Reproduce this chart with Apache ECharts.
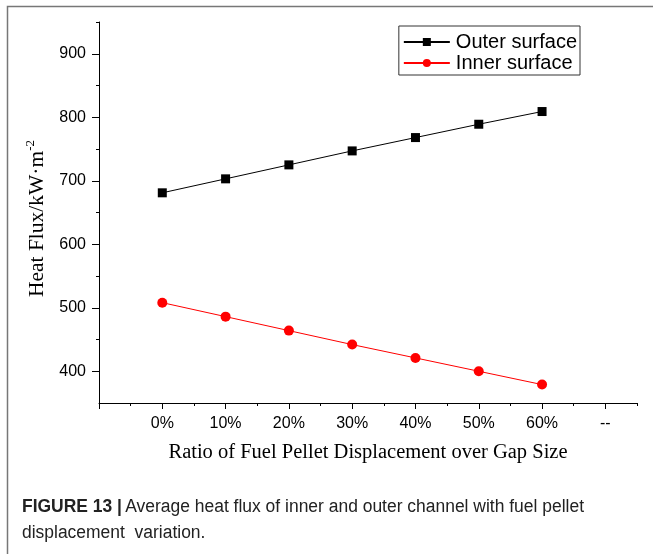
<!DOCTYPE html>
<html>
<head>
<meta charset="utf-8">
<script src="https://cdn.jsdelivr.net/npm/echarts@6/dist/echarts.min.js"></script>
<style>
  html, body { margin: 0; padding: 0; background: #fff; }
  #chart { width: 653px; height: 554px; }
</style>
</head>
<body>
<div id="chart"></div>
<script>
// Displacement ratio positions (tick index) and their labels
const ratioPositions = [0, 1, 2, 3, 4, 5, 6];
const ratioLabels = ['0%', '10%', '20%', '30%', '40%', '50%', '60%', '--'];

// Average heat flux, kW·m^-2
const outerSurface = [681, 703, 725, 747, 768, 789, 809];
const innerSurface = [508, 486, 464, 442, 421, 400, 379];

// Axis tick values
const yMajorTicks = [400, 500, 600, 700, 800, 900];
const yMinorTicks = [450, 550, 650, 750, 850, 950];
const xMajorTicks = [-1, 0, 1, 2, 3, 4, 5, 6, 7];
const xMinorTicks = [-0.5, 0.5, 1.5, 2.5, 3.5, 4.5, 5.5, 6.5, 7.5];

const pairs = (vals) => ratioPositions.map((x, i) => [x, vals[i]]);

const chart = echarts.init(document.getElementById('chart'), null, { renderer: 'canvas' });

const blackLine = { color: '#000', width: 1 };
const sansFont = 'Liberation Sans, Arial, sans-serif';
const serifFont = 'Liberation Serif, Times New Roman, serif';

chart.setOption({
  backgroundColor: '#fff',
  animation: false,
  grid: { left: 99, right: 16, top: 22, bottom: 151 },
  legend: {
    show: true,
    right: 73,
    top: 26,
    orient: 'vertical',
    itemGap: 1,
    itemWidth: 46,
    itemHeight: 10,
    padding: [6, 3, 2, 4],
    borderColor: '#333',
    borderWidth: 1,
    textStyle: { fontFamily: sansFont, fontSize: 20, color: '#000', padding: [0, 0, 0, 1] },
    data: ['Outer surface', 'Inner surface']
  },
  xAxis: [
    {
      type: 'value',
      min: -1,
      max: 7.5,
      axisLine: { show: true, onZero: false, lineStyle: blackLine },
      axisTick: { show: true, length: 6, customValues: xMajorTicks, lineStyle: blackLine },
      axisLabel: {
        customValues: [0, 1, 2, 3, 4, 5, 6, 7],
        formatter: (v) => ratioLabels[Math.round(v)] || '',
        margin: 13,
        fontFamily: sansFont,
        fontSize: 16,
        color: '#000'
      },
      splitLine: { show: false },
      name: 'Ratio of Fuel Pellet Displacement over Gap Size',
      nameLocation: 'middle',
      nameGap: 39,
      nameTextStyle: { fontFamily: serifFont, fontSize: 20.5, color: '#000' }
    },
    {
      type: 'value',
      min: -1,
      max: 7.5,
      position: 'bottom',
      axisLine: { show: false, onZero: false },
      axisTick: { show: true, length: 3, customValues: xMinorTicks, lineStyle: blackLine },
      axisLabel: { show: false },
      splitLine: { show: false }
    }
  ],
  yAxis: [
    {
      type: 'value',
      min: 350,
      max: 950,
      axisLine: { show: true, onZero: false, lineStyle: blackLine },
      axisTick: { show: true, length: 7, customValues: yMajorTicks, lineStyle: blackLine },
      axisLabel: {
        customValues: yMajorTicks,
        margin: 13,
        fontFamily: sansFont,
        fontSize: 16,
        color: '#000'
      },
      splitLine: { show: false },
      name: '{t|Heat Flux/kW·m}{s|-2}',
      nameLocation: 'middle',
      nameGap: 47,
      nameTextStyle: {
        padding: [0, 12, 0, 0],
        rich: {
          t: { fontFamily: serifFont, fontSize: 21.5, color: '#000' },
          s: { fontFamily: serifFont, fontSize: 13, color: '#000', verticalAlign: 'top', padding: [0, 0, 13, 0] }
        }
      }
    },
    {
      type: 'value',
      min: 350,
      max: 950,
      position: 'left',
      axisLine: { show: false, onZero: false },
      axisTick: { show: true, length: 3, customValues: yMinorTicks, lineStyle: blackLine },
      axisLabel: { show: false },
      splitLine: { show: false }
    }
  ],
  series: [
    {
      name: 'Outer surface',
      type: 'line',
      data: pairs(outerSurface),
      symbol: 'rect',
      symbolSize: 9,
      itemStyle: { color: '#000' },
      lineStyle: { color: '#000', width: 1 }
    },
    {
      name: 'Inner surface',
      type: 'line',
      data: pairs(innerSurface),
      symbol: 'circle',
      symbolSize: 10,
      itemStyle: { color: '#ff0000' },
      lineStyle: { color: '#ff0000', width: 1 }
    }
  ],
  graphic: [
    {
      type: 'polyline',
      shape: { points: [[7.5, 554], [7.5, 6.5], [653, 6.5]] },
      style: { stroke: '#777', lineWidth: 1.5, fill: null },
      silent: true
    },
    {
      type: 'text',
      x: 22,
      y: 498,
      scaleX: 0.97,
      style: {
        text: '{b|FIGURE 13 |} {r|Average heat flux of inner and outer channel with fuel pellet}',
        rich: {
          b: { fontFamily: sansFont, fontWeight: 'bold', fontSize: 18, fill: '#222' },
          r: { fontFamily: sansFont, fontSize: 18, fill: '#222' }
        }
      }
    },
    {
      type: 'text',
      x: 22,
      y: 524,
      scaleX: 0.97,
      style: {
        text: 'displacement  variation.',
        fontFamily: sansFont,
        fontSize: 18,
        fill: '#222'
      }
    }
  ]
});
</script>
</body>
</html>
